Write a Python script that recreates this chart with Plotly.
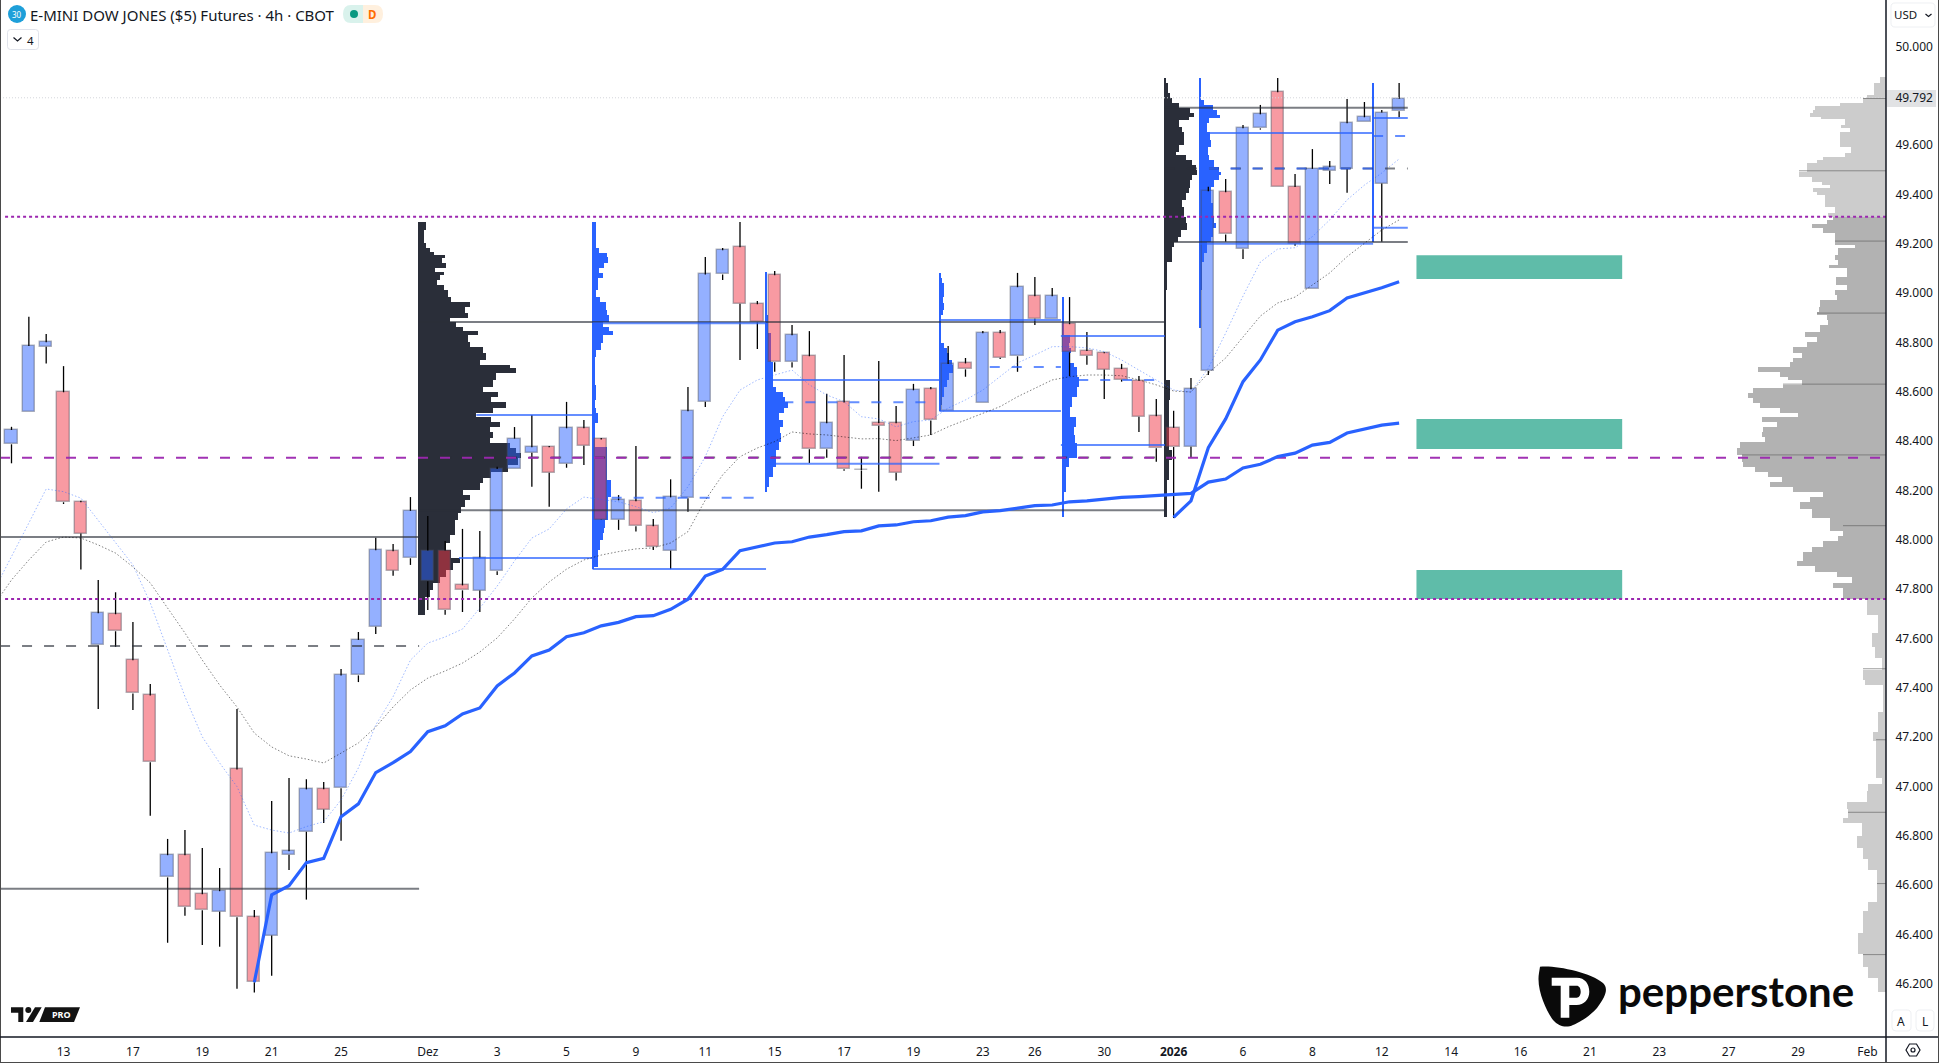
import plotly.graph_objects as go

### Candles ###
opens = [48387, 48517, 48783, 48598, 48152, 47572, 47698, 47511, 47369, 46631, 46721, 46563, 46492, 47069, 46469, 46395, 46723, 46816, 46988, 46992,
         47450, 47647, 47953, 47925, 47832, 47956, 47815, 47794, 47872, 48286, 48353, 48375, 48308, 48452, 48407, 48081, 48156, 48055, 47956, 48168,
         48560, 49076, 49186, 48955, 49072, 48720, 48744, 48367, 48557, 48283, 48472, 48472, 48402, 48610, 48523, 48715, 48553, 48837, 48744, 48987,
         48896, 48874, 48765, 48756, 48692, 48645, 48501, 48454, 48377, 48684, 49409, 49178, 49668, 49814, 49430, 49015, 49496, 49503, 49693, 49444, 49737]
highs = [48458, 48904, 48834, 48704, 48158, 47837, 47787, 47667, 47415, 46787, 46823, 46750, 46669, 47314, 46499, 46941, 47034, 47029, 47018, 47476,
         47626, 48008, 47983, 48173, 48096, 47995, 48044, 48036, 48296, 48457, 48506, 48380, 48559, 48486, 48413, 48181, 48380, 48084, 48245, 48619,
         49146, 49183, 49288, 48968, 49090, 48871, 48846, 48592, 48749, 48336, 48725, 48542, 48632, 48619, 48786, 48737, 48846, 48850, 49082, 49065,
         49021, 48984, 48842, 48760, 48713, 48664, 48571, 48523, 48656, 49431, 49463, 49682, 49763, 49872, 49483, 49584, 49536, 49787, 49775, 49742, 49852]
lows = [48310, 48517, 48715, 48145, 47879, 47314, 47566, 47310, 46881, 46366, 46476, 46357, 46350, 46180, 46164, 46232, 46661, 46541, 46852, 46780,
        47423, 47618, 47854, 47898, 47715, 47696, 47707, 47707, 47857, 48286, 48215, 48134, 48292, 48303, 48080, 48040, 48033, 47958, 47881, 48114,
        48538, 49053, 48729, 48773, 48681, 48698, 48311, 48333, 48280, 48207, 48195, 48240, 48380, 48425, 48523, 48661, 48553, 48733, 48681, 48871,
        48896, 48664, 48710, 48571, 48641, 48437, 48316, 48088, 48331, 48668, 49208, 49138, 49663, 49429, 49192, 49015, 49442, 49407, 49693, 49208, 49713]
closes = [48445, 48786, 48801, 48152, 48025, 47702, 47629, 47377, 47098, 46721, 46510, 46498, 46575, 46469, 46206, 46729, 46737, 46988, 46906, 47450,
          47594, 47957, 47875, 48117, 47956, 47715, 47795, 47925, 48287, 48410, 48375, 48272, 48452, 48381, 48081, 48160, 48055, 47972, 48172, 48521,
          49076, 49174, 48957, 48882, 48720, 48829, 48367, 48472, 48286, 48281, 48462, 48272, 48606, 48484, 48713, 48691, 48837, 48738, 49024, 48896,
          48987, 48760, 48746, 48690, 48649, 48499, 48371, 48376, 48610, 49413, 49238, 49668, 49725, 49429, 49200, 49504, 49510, 49689, 49713, 49732, 49788]

### Indicators ###
fast_x = list(range(-1, 81))
ema_fast = [47796, 47930, 48068, 48206, 48195, 48169, 48080, 47987, 47898, 47744, 47553, 47364, 47201, 47095, 46999, 46843, 46823, 46811, 46837, 46857,
            46945, 47075, 47249, 47364, 47512, 47581, 47606, 47638, 47723, 47812, 47914, 48007, 48044, 48125, 48173, 48165, 48154, 48134, 48110, 48129,
            48215, 48337, 48499, 48607, 48648, 48668, 48688, 48628, 48587, 48560, 48499, 48490, 48458, 48479, 48486, 48534, 48567, 48607, 48661, 48717,
            48749, 48783, 48783, 48778, 48763, 48729, 48688, 48648, 48607, 48599, 48696, 48838, 48988, 49126, 49179, 49184, 49229, 49297, 49378, 49438,
            49487, 49544]
ema_slow = [47736, 47837, 47918, 47991, 48011, 48007, 47979, 47946, 47890, 47825, 47723, 47622, 47512, 47411, 47322, 47216, 47160, 47124, 47111, 47095,
            47135, 47176, 47241, 47322, 47391, 47439, 47468, 47500, 47545, 47602, 47679, 47764, 47829, 47881, 47918, 47938, 47952, 47963, 47967, 47987,
            48033, 48161, 48263, 48337, 48372, 48398, 48437, 48429, 48425, 48418, 48409, 48410, 48402, 48413, 48425, 48458, 48486, 48514, 48540, 48580,
            48615, 48648, 48661, 48668, 48668, 48665, 48648, 48628, 48603, 48599, 48676, 48737, 48822, 48907, 48960, 48984, 49033, 49082, 49148, 49203,
            49256, 49297]
vwap_a_x = list(range(14, 81))
vwap_a = [46206, 46560, 46597, 46691, 46708, 46877, 46929, 47056, 47096, 47141, 47222, 47246, 47294, 47318, 47407, 47460, 47529, 47553, 47607, 47623,
          47651, 47665, 47688, 47692, 47718, 47759, 47853, 47880, 47956, 47972, 47987, 47992, 48011, 48021, 48033, 48036, 48056, 48060, 48073, 48077,
          48092, 48098, 48113, 48118, 48129, 48138, 48141, 48154, 48158, 48166, 48172, 48175, 48179, 48184, 48188, 48234, 48246, 48291, 48306, 48337,
          48351, 48384, 48395, 48433, 48449, 48465, 48473]
vwap_b_x = list(range(67, 81))
vwap_b = [48091, 48158, 48373, 48490, 48641, 48729, 48850, 48884, 48904, 48929, 48980, 49000, 49022, 49046]

### Session volume profiles: price level, volume at that level ###
prof_a_levels = [49288, 49256, 49202, 49182, 49168, 49155, 49141, 49121, 49100, 49087, 49073, 49053, 49033, 49013, 48986, 48965, 48945, 48918, 48898, 48884,
                 48864, 48848, 48830, 48803, 48783, 48756, 48729, 48709, 48695, 48675, 48648, 48621, 48600, 48580, 48557, 48533, 48513, 48499, 48479, 48459,
                 48438, 48411, 48391, 48371, 48350, 48330, 48303, 48276, 48249, 48229, 48202, 48181, 48161, 48134, 48107, 48080, 48046, 48019, 47985, 47958,
                 47925, 47904, 47877, 47850, 47823, 47796, 47769, 47695]
prof_a_vols = [8, 6, 8, 12, 16, 27, 24, 28, 17, 26, 22, 19, 26, 30, 33, 52, 47, 50, 32, 38,
               45, 60, 50, 52, 65, 68, 62, 92, 98, 78, 75, 65, 80, 73, 88, 75, 58, 73, 82, 72,
               75, 72, 92, 98, 103, 100, 90, 73, 65, 62, 45, 52, 47, 43, 40, 37, 37, 32, 28, 33,
               42, 35, 28, 22, 15, 12, 7, 7]
prof_b_levels = [49288, 49202, 49182, 49161, 49145, 49121, 49100, 49080, 49060, 49013, 48986, 48965, 48932, 48911, 48884, 48864, 48848, 48830, 48796, 48769,
                 48742, 48641, 48627, 48567, 48533, 48513, 48472, 48405, 48377, 48296, 48242, 48202, 48175, 48080, 48046, 48026, 47999, 47958, 47891, 47880]
prof_b_vols = [4, 4, 7, 15, 16, 12, 7, 11, 6, 4, 8, 14, 15, 17, 11, 17, 21, 11, 9, 4,
               3, 3, 4, 3, 4, 6, 3, 3, 15, 15, 19, 19, 16, 13, 12, 11, 8, 6, 2, 2]
prof_c_levels = [49087, 48911, 48850, 48837, 48719, 48641, 48621, 48600, 48580, 48560, 48533, 48513, 48486, 48459, 48432, 48398, 48364, 48330, 48296, 48256, 48215, 48195]
prof_c_vols = [1, 3, 3, 6, 8, 8, 11, 18, 20, 23, 19, 14, 18, 15, 16, 14, 11, 11, 8, 4, 1, 1]
prof_d_levels = [49082, 49060, 49040, 49013, 48986, 48959, 48932, 48911, 48810, 48796, 48776, 48756, 48729, 48709, 48695, 48675, 48648, 48621, 48580, 48546, 48522]
prof_d_vols = [1, 3, 5, 5, 4, 5, 4, 1, 1, 5, 8, 10, 13, 14, 14, 10, 8, 5, 3, 1, 1]
prof_e_levels = [48983, 48850, 48830, 48796, 48776, 48756, 48715, 48702, 48661, 48621, 48580, 48540, 48499, 48459, 48425, 48391, 48364, 48330, 48296, 48195, 48091]
prof_e_vols = [2, 2, 8, 7, 9, 8, 12, 15, 17, 15, 10, 8, 14, 12, 13, 15, 15, 7, 4, 2, 2]
prof_f_levels = [49871, 49851, 49810, 49790, 49770, 49749, 49729, 49715, 49702, 49675, 49655, 49628, 49601, 49574, 49560, 49540, 49519, 49499, 49479, 49459,
                 49425, 49405, 49378, 49351, 49310, 49283, 49256, 49229, 49209, 49188, 49161, 49127, 49013, 48891, 48648, 48567, 48486, 48364, 48323, 48242, 48092]
prof_f_vols = [1, 4, 6, 8, 15, 26, 30, 25, 15, 18, 20, 20, 15, 12, 22, 28, 32, 33, 28, 26,
               25, 22, 18, 20, 22, 23, 17, 14, 10, 8, 8, 3, 2, 1, 6, 5, 5, 8, 5, 3, 1]
prof_g_levels = [49871, 49790, 49783, 49763, 49742, 49722, 49709, 49688, 49655, 49621, 49594, 49560, 49540, 49513, 49492, 49479, 49459, 49432, 49364, 49310,
                 49283, 49263, 49229, 49209, 49161, 49127, 49013, 48860]
prof_g_vols = [1, 1, 5, 14, 18, 21, 10, 8, 11, 12, 9, 10, 15, 20, 22, 20, 15, 12, 14, 15,
               17, 14, 12, 8, 5, 3, 1, 1]
prof_h_levels = [49851, 49803, 49715, 49702, 49594, 49560, 49513, 49459, 49209]
prof_h_vols = [1, 2, 2, 1, 1, 1, 2, 2, 1]

### Fixed range volume profile on the right edge ###
fixed_levels = [49875, 49851, 49803, 49790, 49770, 49759, 49742, 49729, 49715, 49709, 49695, 49682, 49668, 49655, 49621, 49594, 49567, 49553, 49540, 49526,
                49506, 49490, 49472, 49452, 49438, 49425, 49411, 49398, 49378, 49351, 49324, 49310, 49296, 49280, 49263, 49242, 49209, 49195, 49182, 49155,
                49134, 49114, 49100, 49073, 49067, 49033, 49013, 48992, 48972, 48945, 48925, 48911, 48891, 48871, 48844, 48823, 48803, 48783, 48756, 48736,
                48722, 48702, 48681, 48661, 48648, 48627, 48614, 48594, 48573, 48553, 48533, 48513, 48499, 48479, 48459, 48438, 48418, 48398, 48371, 48344,
                48317, 48296, 48276, 48256, 48236, 48215, 48195, 48175, 48154, 48125, 48088, 48037, 48016, 47994, 47972, 47950, 47914, 47892, 47870, 47848,
                47826, 47805, 47760, 47725, 47695, 47623, 47564, 47521, 47470, 47433, 47412, 47302, 47222, 47186, 47070, 47033, 47011, 46982, 46938, 46909,
                46873, 46851, 46800, 46749, 46706, 46662, 46560, 46531, 46495, 46407, 46320, 46269, 46225, 46167]
fixed_vols = [6, 12, 19, 23, 46, 71, 73, 76, 65, 41, 41, 45, 36, 46, 46, 35, 41, 63, 69, 79,
              79, 87, 74, 64, 56, 73, 69, 61, 61, 51, 58, 53, 59, 74, 63, 51, 51, 31, 48, 51,
              48, 57, 39, 39, 50, 39, 51, 49, 66, 67, 69, 59, 58, 66, 81, 69, 79, 93, 84, 93,
              96, 128, 106, 98, 84, 103, 133, 138, 133, 126, 106, 88, 124, 109, 123, 124, 121, 146, 149, 144,
              143, 131, 118, 104, 116, 93, 63, 76, 86, 74, 56, 43, 48, 63, 74, 83, 89, 71, 49, 34,
              53, 43, 19, 19, 8, 14, 11, 4, 23, 21, 3, 8, 13, 10, 10, 4, 18, 19, 39, 38,
              43, 24, 29, 23, 18, 9, 9, 18, 23, 28, 23, 18, 8, 4]
fixed_row_prices = [49789, 49496, 49211, 48919, 48631, 48344, 48057, 47477, 47189, 46895, 46606, 46318]
fixed_va_high = 49310
fixed_va_low = 47760

### Horizontal levels: price, first bar, last bar ###
grey_prices = [48011, 46585, 48883, 48120, 49752, 49207]
grey_from = [-0.66, -0.66, 23.5, 23.5, 66.5, 66.5]
grey_to = [23.5, 23.5, 66.5, 66.5, 80.5, 80.5]
grey_dash_prices = [47569, 48334, 49505]
grey_dash_from = [-0.66, 23.5, 66.5]
grey_dash_to = [23.5, 66.5, 80.5]
blue_prices = [48506, 47926, 47881, 48878, 48648, 48308, 48891, 48522, 48826, 48384, 49649, 49200, 49710, 49265]
blue_from = [26.8, 25.8, 33.5, 33.5, 43.5, 43.5, 53.5, 53.5, 60.5, 60.5, 68.5, 68.5, 78.5, 78.5]
blue_to = [33.5, 33.5, 43.5, 43.5, 53.5, 53.5, 60.5, 60.5, 66.5, 66.5, 78.5, 78.5, 80.5, 80.5]
blue_dash_prices = [48170, 48558, 48700, 48648, 49505, 49637]
blue_dash_from = [34.6, 44.5, 56.4, 61.5, 69.0, 78.5]
blue_dash_to = [43.0, 52.9, 60.5, 66.5, 78.5, 80.5]
purple_dot_prices = [49310, 47760]
purple_dash_prices = [48333]
last_price = 49792

### Demand zones ###
zone_tops = [49154, 48490, 47877]
zone_bottoms = [49057, 48368, 47760]
zone_from = 81
zone_to = 92.86

### Axes ###
y_ticks = [50000, 49792, 49600, 49400, 49200, 49000, 48800, 48600, 48400, 48200, 48000, 47800, 47600, 47400, 47200, 47000, 46800, 46600, 46400, 46200]
x_tick_bars = [3, 7, 11, 15, 19, 24, 28, 32, 36, 40, 44, 48, 52, 56, 59, 63, 67, 71, 75, 79, 83, 87, 91, 95, 99, 103, 107]
x_tick_labels = ['13', '17', '19', '21', '25', 'Dez', '3', '5', '9', '11', '15', '17', '19', '23', '26', '30', '<b>2026</b>',
                 '6', '8', '12', '14', '16', '21', '23', '27', '29', 'Feb']

TITLE = 'E-MINI DOW JONES ($5) Futures · 4h · CBOT'
FONT = 'Noto Sans'
TEXT_COLOR = '#131722'
BAR_PX = 17.345
W, H = 1939, 1063
PLOT_W, PLOT_H = 1886, 1037
X_RANGE = [-0.663, 108.07]
Y_RANGE = [45983.9, 50188.5]


def px(x):
    return x / PLOT_W


def py(y):
    return 1 - y / PLOT_H


def page_path(points, close=True):
    # points are page pixels, strings pass through as curve commands
    out = []
    for p in points:
        if isinstance(p, str):
            out.append(p)
        else:
            out.append(f'{px(p[0]):.5f},{py(p[1]):.5f}')
    return ' '.join(out) + (' Z' if close else '')


def round_rect(x0, y0, x1, y1, r):
    return page_path(['M', (x0 + r, y0), 'L', (x1 - r, y0), 'Q', (x1, y0), (x1, y0 + r), 'L', (x1, y1 - r), 'Q', (x1, y1), (x1 - r, y1),
                      'L', (x0 + r, y1), 'Q', (x0, y1), (x0, y1 - r), 'L', (x0, y0 + r), 'Q', (x0, y0), (x0 + r, y0)])


def page_shape(path, fill='rgba(0,0,0,0)', line='rgba(0,0,0,0)', width=1, **kw):
    return dict(type='path', xref='paper', yref='paper', path=path, fillcolor=fill, line=dict(color=line, width=width), **kw)


def page_text(text, x, y, size, color=TEXT_COLOR, anchor='left', family=FONT):
    fig.add_annotation(text=text, x=px(x), y=py(y), xref='paper', yref='paper', xanchor=anchor, yanchor='middle',
                       showarrow=False, borderpad=0, borderwidth=0, font=dict(family=family, size=size, color=color))


def add_profile(levels, vols, base, color, direction=1):
    mids = [(levels[k] + levels[k + 1]) / 2 for k in range(len(levels) - 1)]
    thick = [levels[k] - levels[k + 1] for k in range(len(levels) - 1)]
    xs = [direction * v / BAR_PX for v in vols[:-1]]
    fig.add_trace(go.Bar(orientation='h', y=mids, x=xs, base=base, width=thick, marker=dict(color=color, line=dict(width=0))))


def add_levels(prices, starts, ends, color, width=2, dash='solid'):
    xs, ys = [], []
    for p, a, b in zip(prices, starts, ends):
        xs += [a, b, None]
        ys += [p, p, None]
    fig.add_trace(go.Scatter(x=xs, y=ys, mode='lines', line=dict(color=color, width=width, dash=dash), hoverinfo='skip'))


fig = go.Figure()

# profiles sit under the translucent candle bodies
add_profile(prof_a_levels, prof_a_vols, 23.45, '#2a2e39')
add_profile(prof_f_levels, prof_f_vols, 66.46, '#2a2e39')
add_profile(prof_b_levels, prof_b_vols, 33.49, '#2962ff')
add_profile(prof_c_levels, prof_c_vols, 43.45, '#2962ff')
add_profile(prof_d_levels, prof_d_vols, 53.49, '#2962ff')
add_profile(prof_e_levels, prof_e_vols, 60.54, '#2962ff')
add_profile(prof_g_levels, prof_g_vols, 68.48, '#2962ff')
add_profile(prof_h_levels, prof_h_vols, 78.44, '#2962ff')

fixed_colors = []
for k in range(len(fixed_levels) - 1):
    inside = fixed_va_low <= fixed_levels[k + 1] and fixed_levels[k] <= fixed_va_high
    fixed_colors.append('#b2b2b2' if inside else '#cccccc')
add_profile(fixed_levels, fixed_vols, X_RANGE[1], fixed_colors, direction=-1)

# candle bodies
bars = list(range(len(opens)))
body_base = [min(o, c) for o, c in zip(opens, closes)]
body_size = [abs(o - c) for o, c in zip(opens, closes)]
body_color = ['rgba(41,98,255,0.5)' if c >= o else 'rgba(242,54,69,0.5)' for o, c in zip(opens, closes)]
fig.add_trace(go.Bar(x=bars, y=body_size, base=body_base, width=0.71,
                     marker=dict(color=body_color, line=dict(color='rgba(70,75,90,0.4)', width=1.5))))

# wicks above and below the body
wick_x, wick_y = [], []
for i in bars:
    wick_x += [i, i, None, i, i, None]
    wick_y += [highs[i], max(opens[i], closes[i]), None, min(opens[i], closes[i]), lows[i], None]
fig.add_trace(go.Scatter(x=wick_x, y=wick_y, mode='lines', line=dict(color='#000000', width=1.3), hoverinfo='skip'))

# levels
add_levels([last_price], [X_RANGE[0]], [X_RANGE[1]], '#d4d6db', width=1, dash='1px,2px')
add_levels(grey_prices, grey_from, grey_to, 'rgba(42,46,57,0.62)')
add_levels(grey_dash_prices, grey_dash_from, grey_dash_to, 'rgba(42,46,57,0.62)', dash='10px,12px')
add_levels(blue_prices, blue_from, blue_to, 'rgba(41,98,255,0.72)')
add_levels(blue_dash_prices, blue_dash_from, blue_dash_to, 'rgba(41,98,255,0.72)', dash='10px,12px')
add_levels(purple_dot_prices, [-0.37, -0.37], [X_RANGE[1], X_RANGE[1]], '#9c27b0', dash='3px,3px')
add_levels(purple_dash_prices, [X_RANGE[0]], [X_RANGE[1]], 'rgba(156,39,176,0.95)', dash='10px,12px')

# row marks of the fixed profile, as long as the profile is wide there
row_from, row_to = [], []
for p in fixed_row_prices:
    k = min(range(len(fixed_levels)), key=lambda n: abs(fixed_levels[n] - p))
    row_from.append(X_RANGE[1] - fixed_vols[k] / BAR_PX)
    row_to.append(X_RANGE[1])
add_levels(fixed_row_prices, row_from, row_to, 'rgba(90,90,90,0.6)', width=1)

# moving averages and anchored vwaps
fig.add_trace(go.Scatter(x=fast_x, y=ema_fast, mode='lines', line=dict(color='rgba(41,98,255,0.45)', width=1, dash='1.5px,2px'), hoverinfo='skip'))
fig.add_trace(go.Scatter(x=fast_x, y=ema_slow, mode='lines', line=dict(color='rgba(0,0,0,0.5)', width=1, dash='1.5px,2px'), hoverinfo='skip'))
fig.add_trace(go.Scatter(x=vwap_a_x, y=vwap_a, mode='lines', line=dict(color='#2962ff', width=3.2), hoverinfo='skip'))
fig.add_trace(go.Scatter(x=vwap_b_x, y=vwap_b, mode='lines', line=dict(color='#2962ff', width=3.2), hoverinfo='skip'))

shapes = []

# zones
for top, bottom in zip(zone_tops, zone_bottoms):
    shapes.append(dict(type='rect', xref='x', yref='y', x0=zone_from, x1=zone_to, y0=bottom, y1=top,
                       fillcolor='#5fbca9', line=dict(width=0), layer='below'))

# frame of the chart
shapes.append(dict(type='line', xref='paper', yref='paper', x0=px(0.5), x1=px(0.5), y0=py(0), y1=py(1063), line=dict(color='#4a4a4a', width=1)))
shapes.append(dict(type='line', xref='paper', yref='paper', x0=px(1886), x1=px(1886), y0=py(0), y1=py(1063), line=dict(color='#131722', width=1.5)))
shapes.append(dict(type='line', xref='paper', yref='paper', x0=px(0), x1=px(1939), y0=py(1037), y1=py(1037), line=dict(color='#131722', width=1.5)))
shapes.append(dict(type='line', xref='paper', yref='paper', x0=px(1938.5), x1=px(1938.5), y0=py(0), y1=py(1063), line=dict(color='#4a4a4a', width=1)))
shapes.append(dict(type='line', xref='paper', yref='paper', x0=px(0), x1=px(1939), y0=py(1062.5), y1=py(1062.5), line=dict(color='#4a4a4a', width=1)))

# last price tag
shapes.append(page_shape(page_path(['M', (1887, 90), 'L', (1936, 90), 'L', (1936, 107), 'L', (1887, 107)]), fill='#e1e2e4', layer='below'))

# symbol header
shapes.append(dict(type='circle', xref='paper', yref='paper', x0=px(8), x1=px(26), y0=py(5), y1=py(23), fillcolor='#1e9fd9', line=dict(width=0)))
shapes.append(page_shape(page_path(['M', (351, 5), 'L', (363, 5), 'L', (363, 23), 'L', (351, 23), 'Q', (343, 23), (343, 14), 'Q', (343, 5), (351, 5)]), fill='#d9f2ec'))
shapes.append(page_shape(page_path(['M', (363, 5), 'L', (375, 5), 'Q', (383, 5), (383, 14), 'Q', (383, 23), (375, 23), 'L', (363, 23)]), fill='#fff0de'))
shapes.append(dict(type='circle', xref='paper', yref='paper', x0=px(350), x1=px(358), y0=py(10), y1=py(18), fillcolor='#089981', line=dict(width=0)))
shapes.append(page_shape(round_rect(7.5, 29.5, 38.5, 49.5, 3), fill='#ffffff', line='#e0e3eb'))
shapes.append(page_shape(page_path(['M', (13.5, 37.5), 'L', (17.5, 41), 'L', (21.5, 37.5)], close=False), line='#131722', width=1.2))

# axis buttons
shapes.append(page_shape(round_rect(1891, 3, 1935, 27, 4), fill='#ffffff', line='#eef0f3'))
shapes.append(page_shape(page_path(['M', (1925.5, 14), 'L', (1928.5, 16.5), 'L', (1931.5, 14)], close=False), line='#131722', width=1.2))
shapes.append(page_shape(round_rect(1892, 1010, 1911, 1031, 4), fill='#ffffff', line='#eef0f3'))
shapes.append(page_shape(round_rect(1916, 1010, 1934, 1031, 4), fill='#ffffff', line='#eef0f3'))
shapes.append(page_shape(page_path(['M', (1906, 1050), 'L', (1909.5, 1044), 'L', (1916.5, 1044), 'L', (1920, 1050), 'L', (1916.5, 1056), 'L', (1909.5, 1056)]), line='#131722', width=1.2))
shapes.append(dict(type='circle', xref='paper', yref='paper', x0=px(1911), x1=px(1915), y0=py(1048), y1=py(1052), line=dict(color='#131722', width=1.2)))

# TV PRO mark
shapes.append(page_shape(page_path(['M', (11, 1007.3), 'L', (23.3, 1007.3), 'L', (23.3, 1022), 'L', (18.3, 1022), 'L', (18.3, 1012.7), 'L', (11, 1012.7)]), fill='#131313'))
shapes.append(dict(type='circle', xref='paper', yref='paper', x0=px(25.3), x1=px(31.3), y0=py(1007), y1=py(1013), fillcolor='#131313', line=dict(width=0)))
shapes.append(page_shape(page_path(['M', (26, 1022), 'L', (33, 1022), 'L', (41.7, 1007.3), 'L', (35, 1007.3)]), fill='#131313'))
shapes.append(page_shape(page_path(['M', (39.3, 1022), 'L', (74, 1022), 'L', (80, 1007.3), 'L', (45, 1007.3)]), fill='#131313'))

# pepperstone mark
shapes.append(page_shape(page_path(['M', (1540, 966.7), 'C', (1555, 965), (1590, 972), (1603, 983), 'C', (1608, 988), (1607, 995), (1597, 1008),
                                    'C', (1588, 1018), (1578, 1023), (1573, 1025), 'C', (1567, 1028), (1559, 1027), (1553, 1020),
                                    'C', (1547, 1012), (1536, 990), (1539, 973)]), fill='#0a0a0a'))
shapes.append(page_shape(page_path(['M', (1551.7, 977.7), 'L', (1576.7, 977.7), 'C', (1585, 977.7), (1589.3, 984), (1589.3, 991.7),
                                    'C', (1589.3, 999), (1584, 1005), (1576.7, 1005), 'L', (1569.3, 1005), 'L', (1569.3, 1017.7), 'L', (1560.7, 1017.7),
                                    'L', (1560.7, 985.7), 'L', (1551.7, 985.7), 'Z',
                                    'M', (1569.3, 985.7), 'L', (1576.7, 985.7), 'C', (1579, 985.7), (1580.7, 988), (1580.7, 991.7),
                                    'C', (1580.7, 995), (1579, 997.7), (1576.7, 997.7), 'L', (1569.3, 997.7)]), fill='#ffffff', fillrule='evenodd'))

fig.update_layout(
    width=W, height=H,
    margin=dict(l=0, r=W - PLOT_W, t=0, b=H - PLOT_H),
    paper_bgcolor='#ffffff', plot_bgcolor='#ffffff',
    barmode='overlay', bargap=0, showlegend=False,
    font=dict(family=FONT, size=12, color=TEXT_COLOR),
    shapes=shapes,
    xaxis=dict(range=X_RANGE, fixedrange=True, showgrid=False, zeroline=False, showline=False,
               tickmode='array', tickvals=x_tick_bars, ticktext=x_tick_labels, ticks='outside', ticklen=4, tickcolor='rgba(0,0,0,0)',
               tickangle=0, tickfont=dict(family=FONT, size=12, color=TEXT_COLOR)),
    yaxis=dict(range=Y_RANGE, fixedrange=True, side='right', showgrid=False, zeroline=False, showline=False,
               tickmode='array', tickvals=y_ticks, ticktext=[f'{v / 1000:.3f}' for v in y_ticks], ticks='outside', ticklen=6, tickcolor='rgba(0,0,0,0)',
               tickfont=dict(family=FONT, size=12, color=TEXT_COLOR)),
)

page_text(TITLE, 30, 14.5, 15)
page_text('30', 17, 14, 8, color='#ffffff', anchor='center')
page_text('<b>D</b>', 372, 14, 11.5, color='#ff6d00', anchor='center')
page_text('4', 30.5, 40, 11.5, anchor='center')
page_text('USD', 1894, 14.5, 11.5)
page_text('A', 1901.5, 1021, 12, anchor='center')
page_text('L', 1925, 1021, 12, anchor='center')
page_text('<b>PRO</b>', 61, 1014.7, 9, color='#ffffff', anchor='center')
page_text('<b>pepperstone</b>', 1618, 991, 42, color='#0a0a0a', family='Lato')

fig.write_html("out.html", config=dict(displayModeBar=False),
               post_script="document.body.style.margin='0';document.body.style.overflow='hidden';")
